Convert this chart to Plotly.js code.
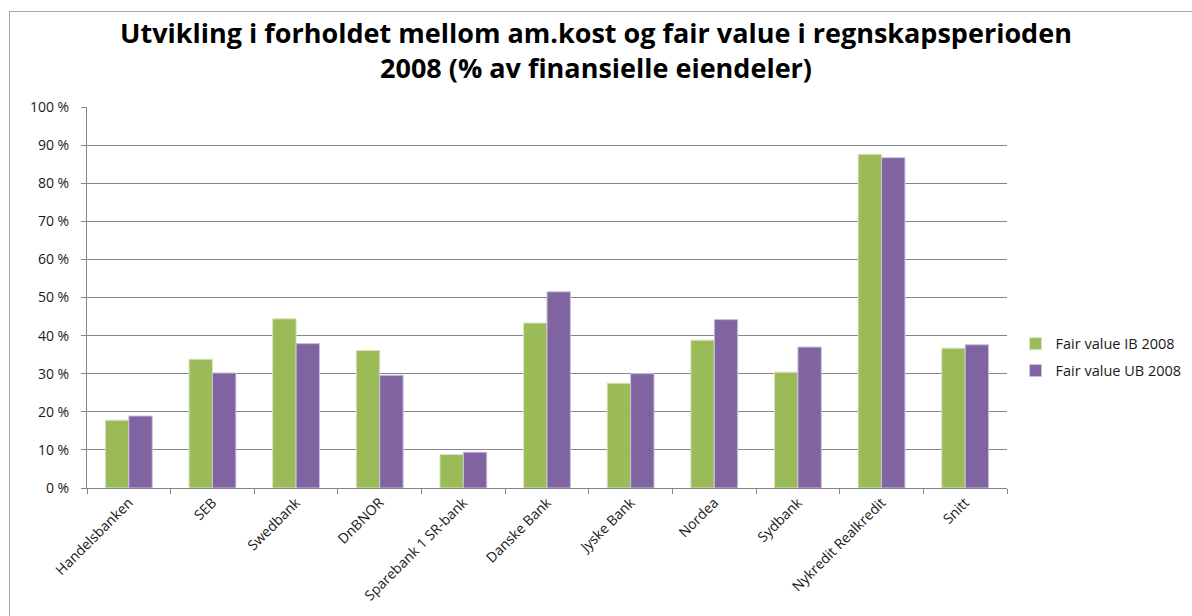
<!DOCTYPE html>
<html>
<head>
<meta charset="utf-8">
<script src="https://cdn.plot.ly/plotly-3.0.1.min.js"></script>
<style>
  body { margin: 0; background: #fff; overflow: hidden; }
  #frame { position: absolute; left: 9px; top: 11px; width: 1300px; height: 700px;
           border-left: 1px solid #a6a6a6; border-top: 1px solid #a6a6a6; }
  #chart { position: absolute; left: 0; top: 0; width: 1192px; height: 616px; }
</style>
</head>
<body>
<div id="frame"></div>
<div id="chart"></div>
<script>
// banks in the comparison
const banks = [
  "Handelsbanken", "SEB", "Swedbank", "DnBNOR", "Sparebank 1 SR-bank",
  "Danske Bank", "Jyske Bank", "Nordea", "Sydbank", "Nykredit Realkredit", "Snitt"
];
// fair value share (% of financial assets)
const fairValueIB = [17.8, 33.8, 44.4, 36.1, 8.8, 43.3, 27.5, 38.8, 30.4, 87.6, 36.7];
const fairValueUB = [18.9, 30.2, 37.9, 29.6, 9.4, 51.5, 30.0, 44.2, 37.0, 86.7, 37.6];
const yTicks = [0, 10, 20, 30, 40, 50, 60, 70, 80, 90, 100];
const yTickText = yTicks.map((v) => v + " %");

const fontFam = "Open Sans, Noto Sans, sans-serif";

const ibBars = {
  x: banks,
  y: fairValueIB,
  type: "bar",
  name: "Fair value IB 2008",
  legendgroup: "ib",
  marker: { color: "#9bbb59", line: { color: "#d7e4bd", width: 1 } },
  hoverinfo: "skip",
};

const ubBars = {
  x: banks,
  y: fairValueUB,
  type: "bar",
  name: "Fair value UB 2008",
  legendgroup: "ub",
  marker: { color: "#8064a2", line: { color: "#ccc1da", width: 1 } },
  hoverinfo: "skip",
};

const layout = {
  width: 1192,
  height: 616,
  margin: { l: 87, r: 185, t: 107, b: 128 },
  paper_bgcolor: "rgba(0,0,0,0)",
  plot_bgcolor: "rgba(0,0,0,0)",
  font: { family: fontFam, color: "#1a1a1a" },
  title: {
    text: "<b>Utvikling i forholdet mellom am.kost og fair value i regnskapsperioden<br>2008 (% av finansielle eiendeler)</b>",
    font: { family: fontFam, size: 27, color: "#000" },
    x: 0.5,
    xref: "container",
    y: 0.93,
    yref: "container",
    yanchor: "top",
  },
  barmode: "group",
  bargap: 0.44,
  bargroupgap: 0,
  xaxis: {
    type: "category",
    tickangle: -45,
    tickfont: { size: 14, family: fontFam },
    ticks: "outside",
    tickson: "boundaries",
    ticklen: 5,
    tickcolor: "#868686",
    showline: true,
    linecolor: "#868686",
    linewidth: 1,
    showgrid: false,
    automargin: false,
  },
  yaxis: {
    range: [0, 100],
    tickmode: "array",
    tickvals: yTicks,
    ticktext: yTickText,
    tickfont: { size: 14, family: fontFam },
    ticks: "outside",
    ticklen: 5,
    ticklabelstandoff: 9,
    tickcolor: "#868686",
    showline: true,
    linecolor: "#868686",
    linewidth: 1,
    showgrid: true,
    gridcolor: "#868686",
    gridwidth: 1,
    zeroline: false,
    automargin: false,
  },
  legend: {
    xref: "container",
    x: 0.852,
    xanchor: "left",
    yref: "container",
    y: 0.42,
    yanchor: "middle",
    font: { size: 14.5, family: fontFam },
    itemwidth: 30,
    traceorder: "grouped",
    tracegroupgap: 5,
  },
  showlegend: true,
};

Plotly.newPlot(document.getElementById("chart"), [ibBars, ubBars], layout, { staticPlot: true });
</script>
</body>
</html>
